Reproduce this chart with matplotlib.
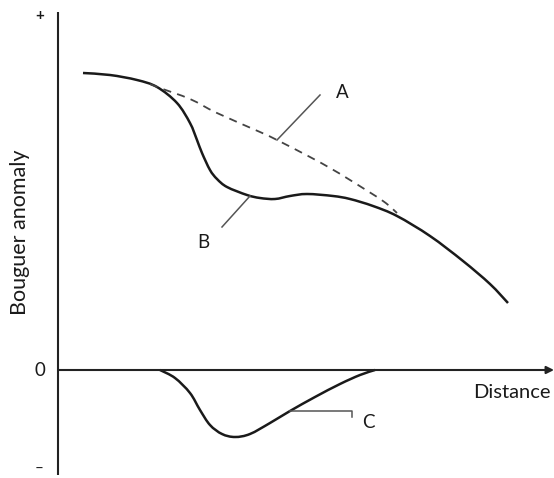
import matplotlib
matplotlib.use("Agg")
import matplotlib.pyplot as plt
import numpy as np
from matplotlib.path import Path
from matplotlib.patches import PathPatch

# Schematic data (distance units, anomaly units; 0 = zero anomaly line)
b_dist = [83, 110, 137, 157, 177, 190, 197, 202, 210, 217, 227, 247, 260, 275,
          290, 307, 333, 350, 373, 397, 430, 463, 490, 508]
b_anom = [297, 295, 290, 283, 267, 247, 230, 217, 200, 191, 183, 175, 172, 171,
          174, 176, 174, 171, 164, 154, 134, 109, 86, 67]

a_dist = [150, 160, 190, 217, 260, 277, 310, 330, 350, 383, 397]
a_anom = [286, 282, 271, 257, 238, 230, 213, 202, 190, 169, 157]

c_dist = [160, 175, 190, 200, 210, 222, 235, 250, 270, 290, 315, 340, 360, 375]
c_anom = [0, -8, -23, -40, -55, -64, -67, -64, -53, -41, -27, -14, -5, 0]

labels = ["A", "B", "C"]
label_pos = [(342, 278), (203, 128), (368, -53)]
leader_A = ([277, 320], [230, 275])
leader_B = ([250, 222], [174, 143])
leader_C = ([290, 352, 352], [-41, -41, -47])


def smooth_path(xs, ys):
    """Bezier path through the given points (Catmull-Rom tangents)."""
    p = np.column_stack([xs, ys]).astype(float)
    n = len(p)
    verts = [p[0]]
    codes = [Path.MOVETO]
    for i in range(n - 1):
        p0 = p[i - 1] if i > 0 else p[i]
        p1, p2 = p[i], p[i + 1]
        p3 = p[i + 2] if i + 2 < n else p[i + 1]
        c1 = p1 + (p2 - p0) / 6.0
        c2 = p2 - (p3 - p1) / 6.0
        verts += [c1, c2, p2]
        codes += [Path.CURVE4] * 3
    return Path(verts, codes)


fig = plt.figure(figsize=(5.54, 4.78), dpi=100)
ax = fig.add_axes([0, 0, 1, 1])
ax.set_xlim(0, 554)
ax.set_ylim(370 - 478, 370)
ax.axis("off")

font = dict(family=["Lato", "DejaVu Sans"], color="#1a1a1a")

# axes
ax.plot([58, 58], [358, -105], color="#222222", lw=1.5, solid_capstyle="butt")
ax.annotate("", xy=(554, 0), xytext=(58, 0),
            arrowprops=dict(arrowstyle="-|>", lw=1.5, color="#222222",
                            mutation_scale=11, shrinkA=0, shrinkB=0))

# curves
ax.add_patch(PathPatch(smooth_path(b_dist, b_anom), fill=False, ec="#1a1a1a",
                       lw=1.8, capstyle="butt"))
ax.add_patch(PathPatch(smooth_path(a_dist, a_anom), fill=False, ec="#444444",
                       lw=1.3, linestyle=(0, (4.5, 3.5))))
ax.add_patch(PathPatch(smooth_path(c_dist, c_anom), fill=False, ec="#1a1a1a",
                       lw=1.8, capstyle="butt"))

# leaders
for lx, ly in (leader_A, leader_B, leader_C):
    ax.plot(lx, ly, color="#555555", lw=1.1)

for lab, (x, y) in zip(labels, label_pos):
    ax.text(x, y, lab, ha="center", va="center", fontsize=13.5, **font)

ax.text(40, 354, "+", ha="center", va="center", fontsize=11, fontweight="bold", **font)
ax.text(40, 0, "0", ha="center", va="center", fontsize=13.5, **font)
ax.text(39, -99, "–", ha="center", va="center", fontsize=11, **font)
ax.text(512, -23, "Distance", ha="center", va="center", fontsize=14.5, **font)
ax.text(20, 138, "Bouguer anomaly", ha="center", va="center", rotation=90,
        fontsize=15.5, **font)

fig.savefig("out.png", dpi=100)
